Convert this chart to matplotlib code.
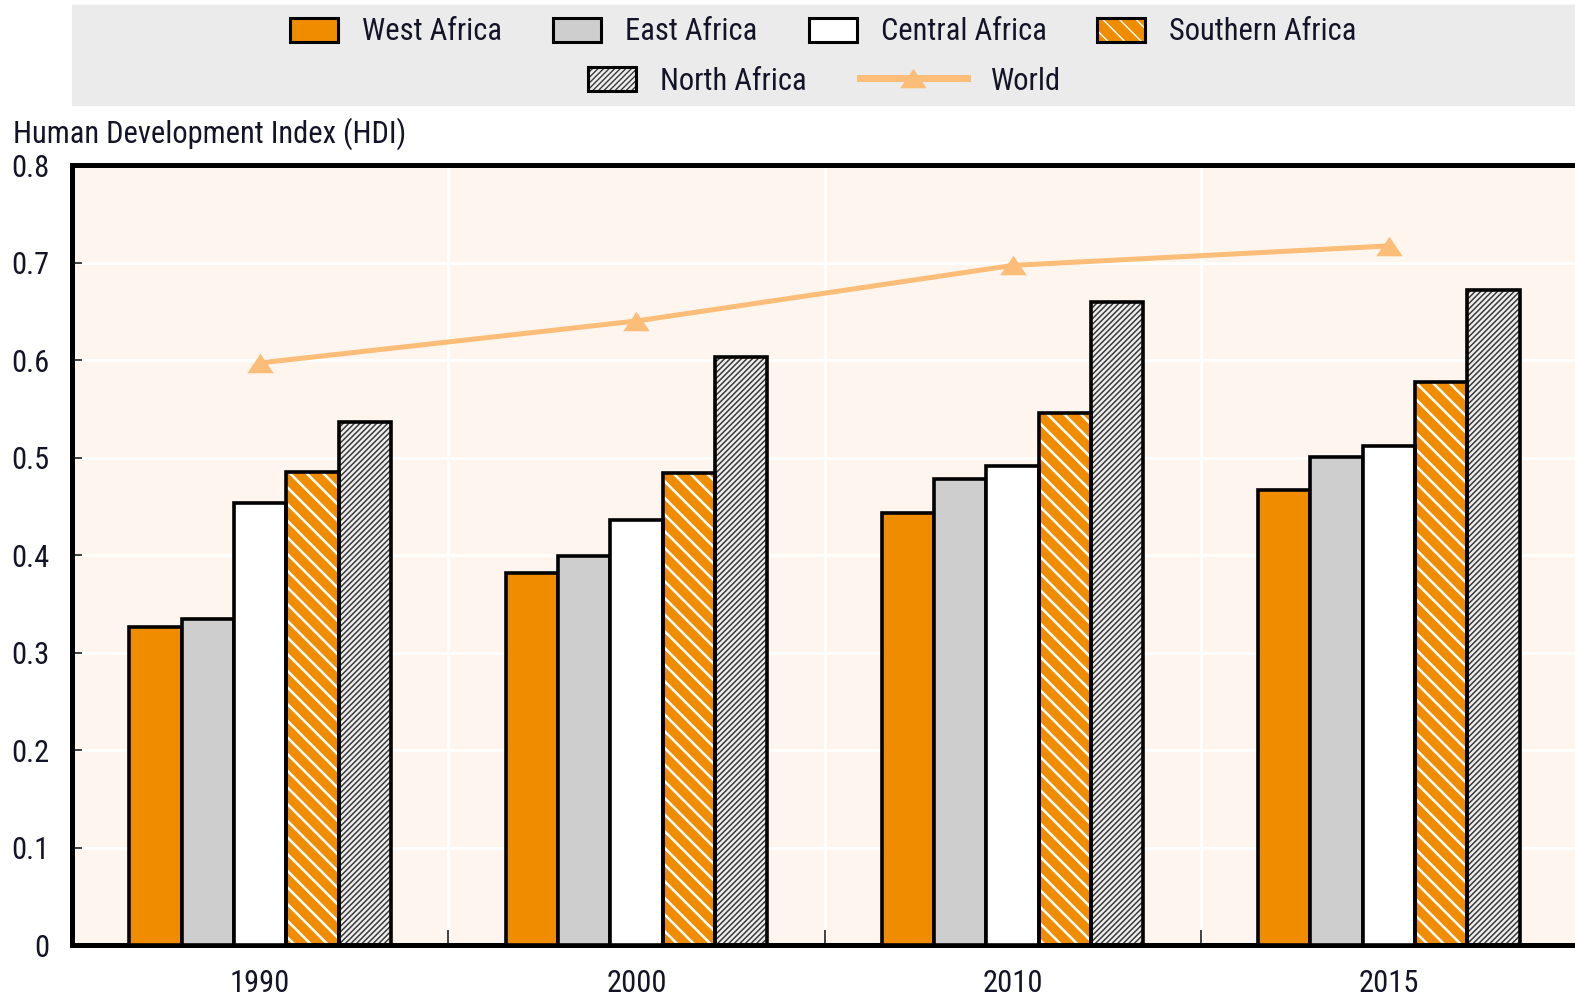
import matplotlib
matplotlib.use("Agg")
import matplotlib.pyplot as plt
import matplotlib.font_manager as fm
import numpy as np
from matplotlib.patches import Patch, Rectangle
from matplotlib.lines import Line2D

# HDI by African region, with the world average as a line
years = ["1990", "2000", "2010", "2015"]
regions = ["West Africa", "East Africa", "Central Africa", "Southern Africa", "North Africa"]
west = [0.326, 0.382, 0.443, 0.467]
east = [0.334, 0.399, 0.478, 0.501]
central = [0.453, 0.436, 0.491, 0.512]
southern = [0.485, 0.484, 0.546, 0.577]
north = [0.536, 0.603, 0.659, 0.672]
world = [0.597, 0.640, 0.697, 0.717]
yticks = [0, 0.1, 0.2, 0.3, 0.4, 0.5, 0.6, 0.7, 0.8]

ORANGE = "#F08C00"
GREY = "#CECECE"
WORLD_C = "#FBBD77"
TXT = "#141428"

# face colour, hatch pattern, hatch colour, hatch line width
styles = [
    (ORANGE, None, None, 0),
    (GREY, None, None, 0),
    ("white", None, None, 0),
    (ORANGE, "\\\\", "white", 1.8),
    ("#EEEEEE", "//////", "#3A3A3A", 1.1),
]


def narrow_font():
    """Pick a condensed sans face if one is installed."""
    narrow = ("condensed", "semi-condensed", "extra-condensed", "ultra-condensed")
    faces = fm.fontManager.ttflist
    for f in faces:
        if f.name == "Liberation Sans Narrow":
            return f.name, "normal", 22
    for name in ["Roboto Condensed", "Open Sans Condensed", "DejaVu Sans", "Roboto",
                 "Open Sans", "Noto Sans", "Liberation Sans"]:
        for f in faces:
            if (f.name == name and f.style == "normal" and f.weight in (400, "normal")
                    and (f.stretch in narrow or "Condensed" in f.name)):
                return f.name, f.stretch, 22
    return "Liberation Sans", "normal", 19


FONT, STRETCH, FS = narrow_font()
plt.rcParams["font.family"] = [FONT, "DejaVu Sans"]
plt.rcParams["font.stretch"] = STRETCH
plt.rcParams["text.color"] = TXT

W, H = 1575, 996
fig = plt.figure(figsize=(W / 100, H / 100), dpi=100)

# grey legend band across the top
fig.add_artist(Rectangle((72 / W, 1 - 105 / H), 1 - 72 / W, 100 / H,
                         transform=fig.transFigure, color="#EBEBEB", zorder=0))

ax = fig.add_axes([72 / W, 1 - 945 / H, 1505 / W, 780 / H])
ax.set_facecolor("#FEF6EE")

x = np.arange(len(years))
bw = 0.139
series = [west, east, central, southern, north]


def hatched_bar(xs, vals, face, hatch, hcol, hlw):
    with plt.rc_context({"hatch.linewidth": hlw}):
        bars = ax.bar(xs, vals, bw, color=face, edgecolor=hcol, hatch=hatch,
                      linewidth=0, zorder=2)
    for b in bars:
        if hasattr(b, "set_hatch_linewidth"):
            b.set_hatch_linewidth(hlw)
    ax.bar(xs, vals, bw, fill=False, edgecolor="black", linewidth=2.6, zorder=3)


for i, (vals, (face, hatch, hcol, hlw)) in enumerate(zip(series, styles)):
    xs = x + (i - 2) * bw
    if hatch:
        hatched_bar(xs, vals, face, hatch, hcol, hlw)
    else:
        ax.bar(xs, vals, bw, color=face, edgecolor="black", linewidth=2.6, zorder=3)

# flattened up-triangle used as the World marker
tri = [(-1, -0.74), (1, -0.74), (0, 0.74)]
ax.plot(x, world, color=WORLD_C, lw=3.6, marker=tri, markersize=19,
        markeredgewidth=0, zorder=5, clip_on=False)

ax.set_xlim(-0.5, 3.5)
ax.set_ylim(0, 0.8)
ax.set_xticks(x, years)
ax.set_xticks([0.5, 1.5, 2.5], minor=True)
ax.set_yticks(yticks, [f"{v:g}" for v in yticks])

ax.tick_params(axis="x", which="major", length=0, pad=17, labelsize=FS, labelcolor=TXT)
ax.tick_params(axis="x", which="minor", direction="in", length=11, width=1.3, color="#333333")
ax.tick_params(axis="y", direction="in", length=7, width=1.3, color="#333333",
               pad=16, labelsize=FS, labelcolor=TXT)

ax.set_axisbelow(True)
ax.yaxis.grid(True, color="white", lw=2)
ax.xaxis.grid(True, which="minor", color="white", lw=2)

for side in ["left", "top", "bottom"]:
    ax.spines[side].set_linewidth(3.6)
    ax.spines[side].set_color("black")
ax.spines["right"].set_visible(False)

fig.text(13 / W, 1 - 143 / H, "Human Development Index (HDI)", ha="left",
         va="baseline", fontsize=FS, color=TXT)

# legend handles
outline = Patch(fill=False, edgecolor="black", linewidth=2.2)
h_west = Patch(facecolor=ORANGE, edgecolor="black", linewidth=2.2)
h_east = Patch(facecolor=GREY, edgecolor="black", linewidth=2.2)
h_central = Patch(facecolor="white", edgecolor="black", linewidth=2.2)
with plt.rc_context({"hatch.linewidth": 1.8}):
    h_south_fill = Patch(facecolor=ORANGE, edgecolor="white", hatch="\\\\", linewidth=0)
with plt.rc_context({"hatch.linewidth": 1.1}):
    h_north_fill = Patch(facecolor="#EEEEEE", edgecolor="#3A3A3A", hatch="//////", linewidth=0)
h_world = Line2D([], [], color=WORLD_C, lw=5, marker=tri, markersize=19, markeredgewidth=0)

fs_px = FS * 100 / 72
leg_kw = dict(frameon=False, fontsize=FS, handleheight=26 / fs_px, handletextpad=24 / fs_px,
              borderpad=0, borderaxespad=0, labelcolor=TXT)

fig.legend([h_west, h_east, h_central, (h_south_fill, outline)], regions[:4],
           ncol=4, loc="center", bbox_to_anchor=(823.5 / W, 1 - 32 / H),
           handlelength=48 / fs_px, columnspacing=51 / fs_px, **leg_kw)
fig.legend([(h_north_fill, outline)], [regions[4]], loc="center left",
           bbox_to_anchor=(588 / W, 1 - 81 / H), handlelength=48 / fs_px, **leg_kw)
fig.legend([h_world], ["World"], loc="center left",
           bbox_to_anchor=(860 / W, 1 - 81 / H), handlelength=107 / fs_px, **leg_kw)

fig.savefig("out.png", dpi=100)
